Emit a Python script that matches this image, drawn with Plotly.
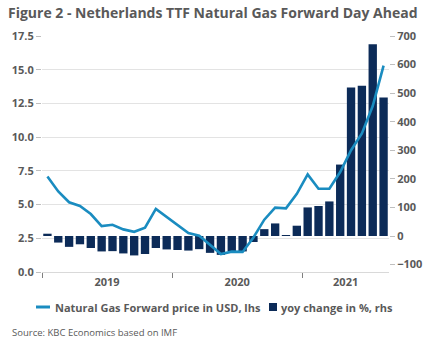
import plotly.graph_objects as go

months = list(range(32))  # Jan 2019 .. Aug 2021
price_usd = [7.09, 5.97, 5.17, 4.90, 4.30, 3.41, 3.50, 3.16, 2.98, 3.28, 4.68, 4.10,
             3.48, 2.89, 2.69, 2.00, 1.33, 1.51, 1.49, 2.56, 3.88, 4.77, 4.72, 5.80,
             7.24, 6.17, 6.17, 7.41, 9.03, 10.27, 12.31, 15.30]
yoy_pct = [8, -23, -38, -29, -42, -54, -53, -61, -68, -63, -42, -47,
           -49, -51, -46, -59, -66, -53, -54, -21, 24, 44, 1, 36,
           100, 105, 121, 250, 520, 526, 671, 485]
year_labels = ["2019", "2020", "2021"]
year_label_pos = [5.5, 17.5, 27.5]
year_bounds = [-0.5, 11.5, 23.5]
left_ticks = [0, 2.5, 5, 7.5, 10, 12.5, 15, 17.5]
right_ticks = [-100, 0, 100, 200, 300, 400, 500, 600, 700]
line_name = "Natural Gas Forward price in USD, lhs"
bar_name = "yoy change in %, rhs"

GRAY = "#595959"
FONT = "Open Sans"
BAR_COLOR = "#0c2b58"
LINE_COLOR = "#1a8cc0"

W, H = 432, 350
ML, MR, MT, MB = 42, 43, 36, 78
PW, PH = W - ML - MR, H - MT - MB


def px(x):
    return (x - ML) / PW


def py(y):
    return (H - MB - y) / PH


fig = go.Figure()
fig.add_trace(go.Bar(x=months, y=yoy_pct, name=bar_name,
                     marker=dict(color=BAR_COLOR, line=dict(width=0)),
                     yaxis="y"))
fig.add_trace(go.Scatter(x=months, y=price_usd, name=line_name,
                         mode="lines", line=dict(color=LINE_COLOR, width=2.6),
                         yaxis="y2"))

fig.update_layout(
    width=W, height=H,
    margin=dict(l=ML, r=MR, t=MT, b=MB, autoexpand=False),
    paper_bgcolor="white", plot_bgcolor="white",
    bargap=0.23,
    showlegend=False,
    font=dict(family=FONT, color=GRAY, size=11),
    title=dict(text="<b>Figure 2 - Netherlands TTF Natural Gas Forward Day Ahead</b>",
               x=8/W, xref="container", xanchor="left",
               y=1-13/H, yref="container", yanchor="middle",
               font=dict(family=FONT, size=14, color=GRAY)),
    xaxis=dict(range=[-0.5, 31.5], tickmode="array", tickvals=year_label_pos,
               ticktext=year_labels, ticks="", showgrid=False,
               showline=True, linecolor="#d9d9d9", linewidth=1,
               tickfont=dict(family=FONT, size=11, color=GRAY, weight="bold"),
               minor=dict(tickmode="array", tickvals=year_bounds, ticks="outside",
                          ticklen=5, tickcolor="#7f7f7f", tickwidth=1, showgrid=False),
               zeroline=False),
    yaxis=dict(side="right", range=[-126, 700], tickmode="array", tickvals=right_ticks,
               showgrid=False, zeroline=False, ticks="outside", ticklen=5,
               tickcolor="#bfbfbf",
               tickfont=dict(family=FONT, size=11, color=GRAY, weight="bold")),
    yaxis2=dict(side="left", overlaying="y", range=[0, 17.5], tickmode="array",
                tickvals=left_ticks, tickformat=".1f", showgrid=True,
                gridcolor="#e3e3e3", gridwidth=1, zeroline=False, ticks="outside",
                ticklen=5, tickcolor="#bfbfbf",
                tickfont=dict(family=FONT, size=11, color=GRAY, weight="bold")),
)

# legend (drawn manually to match the reference layout)
fig.add_shape(type="line", xref="paper", yref="paper",
              x0=px(36), x1=px(50), y0=py(307), y1=py(307),
              line=dict(color=LINE_COLOR, width=3))
fig.add_annotation(text=f"<b>{line_name}</b>", xref="paper", yref="paper",
                   x=px(53), y=py(307), xanchor="left", yanchor="middle",
                   showarrow=False, font=dict(family=FONT, size=11, color=GRAY))
fig.add_shape(type="rect", xref="paper", yref="paper",
              x0=px(269), x1=px(277), y0=py(303), y1=py(311),
              fillcolor=BAR_COLOR, line=dict(width=0))
fig.add_annotation(text=f"<b>{bar_name}</b>", xref="paper", yref="paper",
                   x=px(279), y=py(307), xanchor="left", yanchor="middle",
                   showarrow=False, font=dict(family=FONT, size=11, color=GRAY))

fig.add_annotation(text="Source: KBC Economics based on IMF", xref="paper", yref="paper",
                   x=px(10), y=py(332), xanchor="left", yanchor="middle", showarrow=False,
                   font=dict(family=FONT, size=9.5, color=GRAY))

fig.write_html("out.html")
